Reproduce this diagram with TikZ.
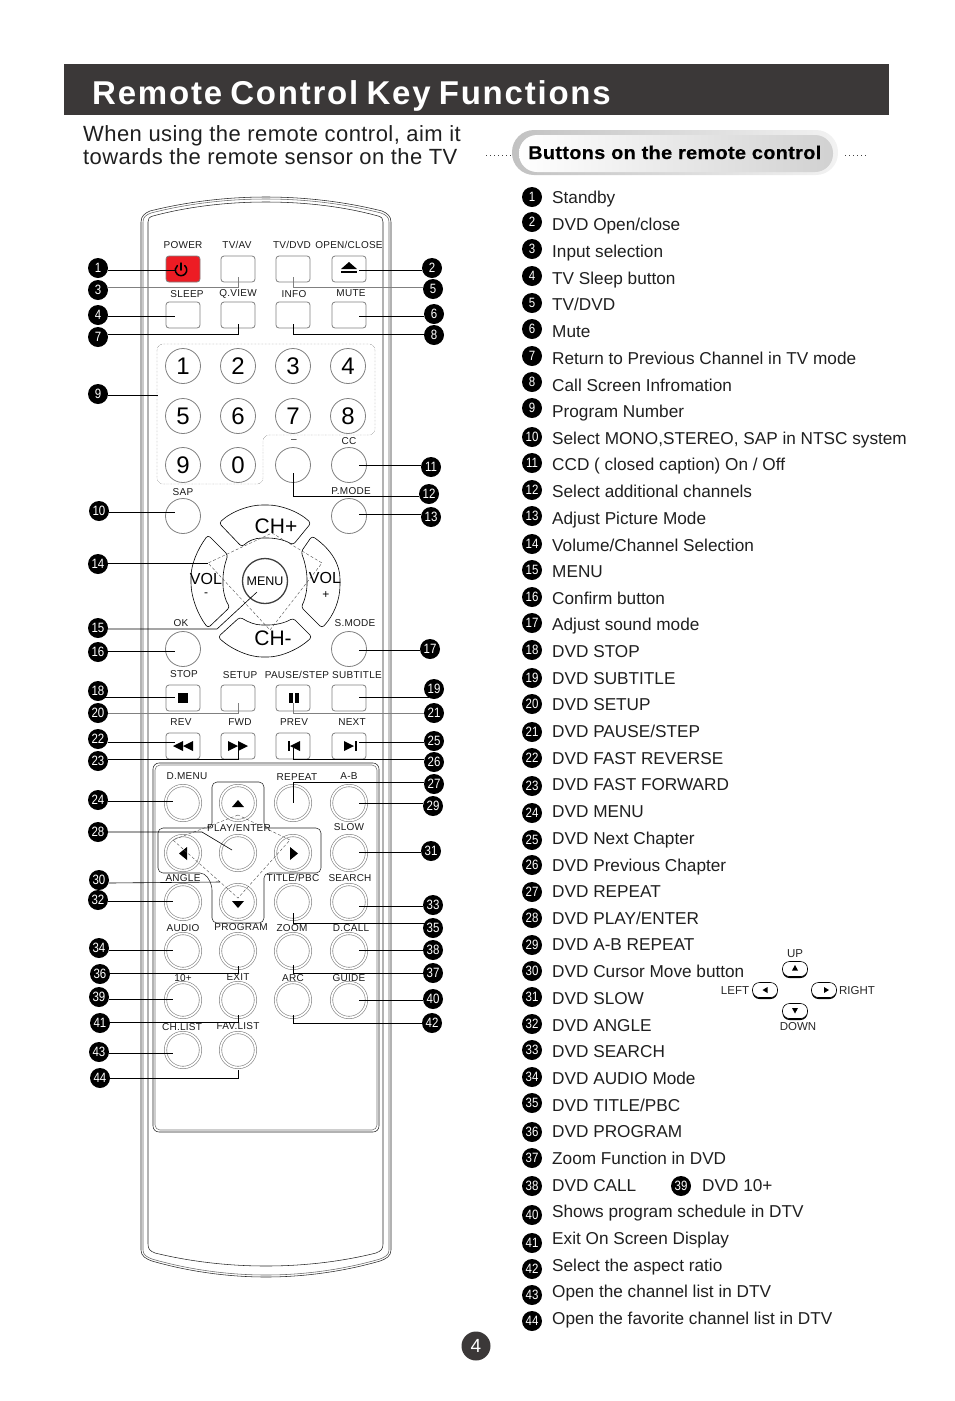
\documentclass[tikz,border=0pt]{standalone}
\usepackage{fontspec}
\setmainfont{Liberation Sans}
\newfontfamily\badgefont[FakeStretch=0.85]{Liberation Sans}
\newfontfamily\titlefont[LetterSpace=5.4,WordSpace=0.75]{Liberation Sans Bold}
\newfontfamily\subfont[LetterSpace=2]{Liberation Sans}
\newfontfamily\pillfont[FakeStretch=1.08,LetterSpace=1.5,FakeBold=0.4]{Liberation Sans Bold}
\newfontfamily\labelfont[LetterSpace=2.5]{Liberation Sans}
\definecolor{bardark}{HTML}{3B3838}
\definecolor{keygray}{HTML}{808080}
\definecolor{powerred}{HTML}{ED1C24}
\tikzset{
    shell/.style={line width=0.55pt,black!85},
    squarekey/.style={draw=keygray,line width=0.8pt,fill=white,rounded corners=3pt,minimum width=34pt,minimum height=26pt,inner sep=0pt},
    numkey/.style={circle,draw=keygray,line width=0.8pt,fill=white,minimum size=35pt,inner sep=0pt,font=\fontsize{24}{24}\selectfont},
    ringkey/.style={circle,draw=keygray,line width=0.6pt,double=white,double distance=1.8pt,minimum size=35pt,inner sep=0pt},
    padline/.style={line width=0.6pt,black,fill=white,rounded corners=3pt,line join=round},
    dashline/.style={line width=0.4pt,black!70,densely dashed},
    lbl/.style={inner sep=0pt,font=\labelfont\fontsize{10}{10}\selectfont,text=black!90},
    lead/.style={line width=0.6pt,black},
    faint/.style={line width=0.6pt,black!50},
    badge/.style={circle,fill=black,text=white,minimum size=20pt,inner sep=0pt,font=\badgefont\fontsize{13.5}{13.5}\selectfont},
    item/.style={anchor=base west,inner sep=0pt,font=\fontsize{17.2}{17.2}\selectfont,text=black!88},
    minikey/.style={draw=black,line width=0.6pt,fill=white,rounded corners=7pt,minimum width=25pt,minimum height=15pt,inner sep=0pt},
    minilbl/.style={inner sep=0pt,font=\fontsize{11.5}{11.5}\selectfont,text=black!85}
}
\begin{document}
\begin{tikzpicture}[x=1pt,y=-1pt]
    \useasboundingbox (0,0) rectangle (954,1401);

    \fill[bardark] (64,64) rectangle (889,115);
    \node[anchor=base west,inner sep=0pt,text=white,font=\titlefont\fontsize{33}{33}\selectfont] (title) at (92,104) {Remote Control Key Functions};
    \node[anchor=base west,inner sep=0pt,font=\subfont\fontsize{22}{22}\selectfont,text=black!88] (sub1) at (83,141) {When using the remote control, aim it};
    \node[anchor=base west,inner sep=0pt,font=\subfont\fontsize{22}{22}\selectfont,text=black!88] (sub2) at (83,164) {towards the remote sensor on the TV};

    \shade[left color=black!24,right color=black!5,rounded corners=22pt] (512,130) rectangle (838,175);
    \shade[left color=white,right color=black!18,rounded corners=18pt] (519,135) rectangle (833,172);
    \node[anchor=base west,inner sep=0pt,font=\pillfont\fontsize{18.5}{18.5}\selectfont] (pill) at (528,159) {Buttons on the remote control};
    \draw[line width=1pt,black!75,dash pattern=on 1pt off 3pt] (486,155) -- (511,155);
    \draw[line width=1pt,black!75,dash pattern=on 1pt off 3pt] (845,155) -- (869,155);

    \draw[shell] (141,1250) -- (141,222) .. controls (141,216) and (145,213) .. (150,211) .. controls (190,201) and (230,197) .. (266,197) .. controls (302,197) and (342,201) .. (382,211) .. controls (387,213) and (391,216) .. (391,222) -- (391,1250) .. controls (391,1256) and (386,1259) .. (380,1261) .. controls (342,1272) and (302,1277) .. (266,1277) .. controls (230,1277) and (190,1272) .. (152,1261) .. controls (146,1259) and (141,1256) .. (141,1250);
    \draw[shell,black!60] (143,1250) -- (143,222) .. controls (143,217) and (146,215) .. (151,213) .. controls (190,203) and (230,199) .. (266,199) .. controls (302,199) and (342,203) .. (381,213) .. controls (386,215) and (389,217) .. (389,222) -- (389,1250) .. controls (389,1255) and (385,1257) .. (380,1259) .. controls (342,1270) and (302,1275) .. (266,1275) .. controls (230,1275) and (190,1270) .. (152,1259) .. controls (147,1257) and (143,1255) .. (143,1250);
    \draw[shell] (148,1244) -- (148,222) .. controls (148,219) and (149,217) .. (153,216) .. controls (190,206) and (230,202) .. (266,202) .. controls (302,202) and (342,206) .. (378,216) .. controls (382,217) and (383,219) .. (383,222) -- (383,1244) .. controls (383,1249) and (381,1251) .. (376,1253) .. controls (340,1262) and (302,1266) .. (266,1266) .. controls (230,1266) and (192,1262) .. (155,1253) .. controls (150,1251) and (148,1249) .. (148,1244);
    \draw[shell,rounded corners=6pt] (153,763) rectangle (379,1132);
    \draw[shell,black!55,rounded corners=5pt] (155,765) rectangle (377,1130);

    \node[squarekey,fill=powerred] (power) at (183,269) {};
    \node[squarekey] (tvav) at (238,269) {};
    \node[squarekey] (tvdvd) at (293,269) {};
    \node[squarekey] (eject) at (349,269) {};
    \node[squarekey] (sleep) at (183,315) {};
    \node[squarekey] (qview) at (238,315) {};
    \node[squarekey] (info) at (293,315) {};
    \node[squarekey] (mute) at (349,315) {};
    \draw[line width=1.5pt,line cap=round] (184.7,265.6) arc[start angle=50,end angle=-230,radius=5.7pt];
    \draw[line width=1.5pt,line cap=round] (181,263) -- (181,270);
    \fill[black] (341,269) -- (349,262) -- (357,269) -- cycle;
    \fill[black] (341,271) rectangle (357,273);

    \draw[dashline,densely dotted,rounded corners=6pt] (157,344) -- (375,344) -- (375,435) -- (263,435) -- (263,484) -- (157,484) -- cycle;
    \node[numkey] (key1) at (183,366) {1};
    \node[numkey] (key2) at (238,366) {2};
    \node[numkey] (key3) at (293,366) {3};
    \node[numkey] (key4) at (348,366) {4};
    \node[numkey] (key5) at (183,416) {5};
    \node[numkey] (key6) at (238,416) {6};
    \node[numkey] (key7) at (293,416) {7};
    \node[numkey] (key8) at (348,416) {8};
    \node[numkey] (key9) at (183,465) {9};
    \node[numkey] (key0) at (238,465) {0};
    \node[numkey] (dash) at (293,465) {};
    \node[numkey] (cc) at (349,465) {};
    \node[numkey] (sap) at (183,516) {};
    \node[numkey] (pmode) at (349,516) {};
    \node[numkey] (ok) at (183,649) {};
    \node[numkey] (smode) at (349,649) {};
    \coordinate (kpedge) at (158,395);

    \draw[padline] (219,523) .. controls (232,511) and (250,505) .. (265,505) .. controls (280,505) and (298,511) .. (311,523) -- (293,545) .. controls (285,540) and (275,538) .. (265,538) .. controls (255,538) and (248,541) .. (242,547) -- cycle;
    \draw[padline] (218,637) .. controls (232,650) and (250,657) .. (265,657) .. controls (280,657) and (298,650) .. (312,637) -- (293,618) .. controls (285,623) and (275,625) .. (265,625) .. controls (255,625) and (248,622) .. (240,617) -- cycle;
    \draw[padline] (208,535) .. controls (197,550) and (191,565) .. (191,580) .. controls (191,597) and (198,615) .. (208,628) -- (230,607) .. controls (225,600) and (223,590) .. (223,582) .. controls (223,572) and (225,563) .. (228,555) -- cycle;
    \draw[padline] (312,536) .. controls (332,550) and (340,565) .. (340,582) .. controls (340,600) and (334,615) .. (322,628) -- (301,607) .. controls (305,600) and (307,590) .. (307,582) .. controls (307,572) and (305,562) .. (301,552) -- cycle;
    \draw[dashline] (272,533) -- (322,563) -- (270,630) -- (208,563) -- cycle;
    \node[circle,draw=black!75,line width=1.3pt,fill=white,minimum size=45pt,inner sep=0pt,font=\fontsize{12.5}{12.5}\selectfont] (menu) at (265,581) {MENU};
    \coordinate (padedge) at (208,563);
    \coordinate (menubend) at (217,629);
    \node[inner sep=0pt,font=\fontsize{21}{21}\selectfont] (chup) at (276,526) {CH+};
    \node[inner sep=0pt,font=\fontsize{21}{21}\selectfont] (chdown) at (273,638) {CH-};
    \node[inner sep=0pt,font=\fontsize{16}{16}\selectfont] (volminus) at (206,579) {VOL};
    \node[inner sep=0pt,font=\fontsize{12}{12}\selectfont] (minus) at (206,595) {-};
    \node[inner sep=0pt,font=\fontsize{16}{16}\selectfont] (volplus) at (325,578) {VOL};
    \node[inner sep=0pt,font=\fontsize{12}{12}\selectfont] (plus) at (326,595) {+};

    \node[squarekey] (stop) at (183,698) {};
    \node[squarekey] (setup) at (238,698) {};
    \node[squarekey] (pause) at (293,698) {};
    \node[squarekey] (subtitle) at (349,698) {};
    \node[squarekey] (rev) at (183,746) {};
    \node[squarekey] (fwd) at (238,746) {};
    \node[squarekey] (prev) at (293,746) {};
    \node[squarekey] (next) at (349,746) {};
    \fill[black] (178,693) rectangle (188,703);
    \fill[black] (289,693) rectangle (293,703);
    \fill[black] (294.5,693) rectangle (298.5,703);
    \fill[black] (183,741) -- (173,746) -- (183,751) -- cycle;
    \fill[black] (193,741) -- (183,746) -- (193,751) -- cycle;
    \fill[black] (228,741) -- (238,746) -- (228,751) -- cycle;
    \fill[black] (238,741) -- (248,746) -- (238,751) -- cycle;
    \fill[black] (288,741) rectangle (290,751);
    \fill[black] (300,741) -- (290,746) -- (300,751) -- cycle;
    \fill[black] (344,741) -- (354,746) -- (344,751) -- cycle;
    \fill[black] (354.5,741) rectangle (356.5,751);

    \draw[shell,rounded corners=5pt] (212,828) -- (212,782) -- (264,782) -- (264,828) -- (321,828) -- (321,873) -- (264,873) -- (264,923) -- (212,923) -- (212,885) -- (205,873) -- (158,873) -- (158,828) -- cycle;
    \node[ringkey] (dmenu) at (183,803) {};
    \node[ringkey] (up) at (238,803) {};
    \node[ringkey] (repeatkey) at (293,803) {};
    \node[ringkey] (ab) at (349,803) {};
    \node[ringkey] (left) at (183,853) {};
    \node[ringkey] (play) at (238,853) {};
    \node[ringkey] (right) at (293,853) {};
    \node[ringkey] (slow) at (349,853) {};
    \node[ringkey] (angle) at (183,902) {};
    \node[ringkey] (down) at (238,902) {};
    \node[ringkey] (titlepbc) at (293,902) {};
    \node[ringkey] (search) at (349,902) {};
    \node[ringkey] (audio) at (183,951) {};
    \node[ringkey] (program) at (238,951) {};
    \node[ringkey] (zoomkey) at (293,951) {};
    \node[ringkey] (dcall) at (349,951) {};
    \node[ringkey] (ten) at (183,1000) {};
    \node[ringkey] (exit) at (238,1000) {};
    \node[ringkey] (arc) at (293,1000) {};
    \node[ringkey] (guide) at (349,1000) {};
    \node[ringkey] (chlist) at (183,1050) {};
    \node[ringkey] (favlist) at (238,1050) {};
    \fill[black] (232,807) -- (238,800) -- (244,807) -- cycle;
    \fill[black] (187,847) -- (179,853.5) -- (187,860) -- cycle;
    \fill[black] (290,847) -- (298,853.5) -- (290,860) -- cycle;
    \fill[black] (232,901) -- (238,908) -- (244,901) -- cycle;
    \draw[dashline] (238,815) -- (173,840) -- (238,898) -- (290,840) -- cycle;
    \coordinate (playbend) at (202,832);
    \coordinate (padleft) at (220,882);

    \node[lbl] (lpower) at (183,245) {POWER};
    \node[lbl] (ltvav) at (237,245) {TV/AV};
    \node[lbl] (ltvdvd) at (292,245) {TV/DVD};
    \node[lbl] (leject) at (349,245) {OPEN/CLOSE};
    \node[lbl] (lsleep) at (187,294) {SLEEP};
    \node[lbl] (lqview) at (238,294) {Q.VIEW};
    \node[lbl] (linfo) at (294,294) {INFO};
    \node[lbl] (lmute) at (351,293) {MUTE};
    \node[lbl] (ldash) at (294,441) {\textendash};
    \node[lbl] (lcc) at (349,441) {CC};
    \node[lbl] (lsap) at (183,492) {SAP};
    \node[lbl] (lpmode) at (351,491) {P.MODE};
    \node[lbl] (lok) at (181,623) {OK};
    \node[lbl] (lsmode) at (355,623) {S.MODE};
    \node[lbl] (lstop) at (184,674) {STOP};
    \node[lbl] (lsetup) at (240,675) {SETUP};
    \node[lbl] (lpause) at (297,675) {PAUSE/STEP};
    \node[lbl] (lsubtitle) at (357,675) {SUBTITLE};
    \node[lbl] (lrev) at (181,722) {REV};
    \node[lbl] (lfwd) at (240,722) {FWD};
    \node[lbl] (lprev) at (294,722) {PREV};
    \node[lbl] (lnext) at (352,722) {NEXT};
    \node[lbl] (ldmenu) at (187,776) {D.MENU};
    \node[lbl] (lrepeat) at (297,777) {REPEAT};
    \node[lbl] (lab) at (349,776) {A-B};
    \node[lbl] (lplay) at (239,828) {PLAY/ENTER};
    \node[lbl] (lslow) at (349,827) {SLOW};
    \node[lbl] (langle) at (183,878) {ANGLE};
    \node[lbl] (ltitle) at (293,878) {TITLE/PBC};
    \node[lbl] (lsearch) at (350,878) {SEARCH};
    \node[lbl] (laudio) at (183,928) {AUDIO};
    \node[lbl] (lprogram) at (241,927) {PROGRAM};
    \node[lbl] (lzoom) at (292,928) {ZOOM};
    \node[lbl] (ldcall) at (351,928) {D.CALL};
    \node[lbl] (lten) at (183,978) {10+};
    \node[lbl] (lexit) at (238,977) {EXIT};
    \node[lbl] (larc) at (293,978) {ARC};
    \node[lbl] (lguide) at (349,978) {GUIDE};
    \node[lbl] (lchlist) at (182,1027) {CH.LIST};
    \node[lbl] (lfavlist) at (238,1026) {FAV.LIST};

    \node[badge] (n1) at (98,268) {1};
    \node[badge] (n2) at (432,268) {2};
    \node[badge] (n3) at (98,290) {3};
    \node[badge] (n4) at (98,315) {4};
    \node[badge] (n5) at (433,289) {5};
    \node[badge] (n6) at (434,314) {6};
    \node[badge] (n7) at (98,337) {7};
    \node[badge] (n8) at (434,335) {8};
    \node[badge] (n9) at (98,394) {9};
    \node[badge] (n10) at (99,511) {10};
    \node[badge] (n11) at (431,467) {11};
    \node[badge] (n12) at (429,494) {12};
    \node[badge] (n13) at (431,517) {13};
    \node[badge] (n14) at (98,564) {14};
    \node[badge] (n15) at (98,628) {15};
    \node[badge] (n16) at (98,652) {16};
    \node[badge] (n17) at (430,649) {17};
    \node[badge] (n18) at (98,691) {18};
    \node[badge] (n19) at (434,689) {19};
    \node[badge] (n20) at (98,713) {20};
    \node[badge] (n21) at (434,713) {21};
    \node[badge] (n22) at (98,739) {22};
    \node[badge] (n23) at (98,761) {23};
    \node[badge] (n24) at (98,800) {24};
    \node[badge] (n25) at (434,741) {25};
    \node[badge] (n26) at (434,762) {26};
    \node[badge] (n27) at (434,784) {27};
    \node[badge] (n28) at (98,832) {28};
    \node[badge] (n29) at (433,806) {29};
    \node[badge] (n30) at (99,880) {30};
    \node[badge] (n31) at (431,851) {31};
    \node[badge] (n32) at (98,900) {32};
    \node[badge] (n33) at (433,905) {33};
    \node[badge] (n34) at (99,948) {34};
    \node[badge] (n35) at (433,928) {35};
    \node[badge] (n36) at (100,974) {36};
    \node[badge] (n37) at (433,973) {37};
    \node[badge] (n38) at (433,950) {38};
    \node[badge] (n39) at (99,997) {39};
    \node[badge] (n40) at (433,999) {40};
    \node[badge] (n41) at (100,1023) {41};
    \node[badge] (n42) at (432,1023) {42};
    \node[badge] (n43) at (99,1052) {43};
    \node[badge] (n44) at (100,1078) {44};

    \draw[lead] ([yshift=-2pt]n1.east) -| ([xshift=-8pt,yshift=-1pt]power.center);
    \draw[lead] ([yshift=-2pt]n2.west) -| ([xshift=10pt,yshift=-1pt]eject.center);
    \draw[faint] ([yshift=3pt]n3.east) -| ([yshift=-8pt]tvav.center);
    \draw[lead] ([yshift=-1pt]n4.east) -| ([xshift=-8pt,yshift=-1pt]sleep.center);
    \draw[faint] ([yshift=2pt]n5.west) -| ([yshift=-8pt]tvdvd.center);
    \draw[lead] ([yshift=-2pt]n6.west) -| ([xshift=10pt,yshift=-1pt]mute.center);
    \draw[lead] ([yshift=3pt]n7.east) -| ([yshift=-9pt]qview.center);
    \draw[lead] ([yshift=1pt]n8.west) -| ([yshift=-9pt]info.center);
    \draw[lead] ([yshift=-1pt]n9.east) -- (kpedge);
    \draw[lead] ([yshift=-1pt]n10.east) -| ([xshift=-8pt,yshift=4pt]sap.center);
    \draw[lead] ([yshift=2pt]n11.west) -| ([xshift=10pt]cc.center);
    \draw[lead] ([yshift=-2pt]n12.west) -| ([yshift=-8pt]dash.center);
    \draw[lead] ([yshift=3pt]n13.west) -| ([xshift=10pt,yshift=2pt]pmode.center);
    \draw[lead] ([yshift=1pt]n14.east) -- (padedge);
    \draw[lead] ([yshift=-1pt]n15.east) -- (menubend) -- ([xshift=-8pt,yshift=-11pt]menu.center);
    \draw[lead] ([yshift=1pt]n16.east) -| ([xshift=-8pt,yshift=-2pt]ok.center);
    \draw[lead] ([yshift=-1pt]n17.west) -| ([xshift=10pt,yshift=-1pt]smode.center);
    \draw[lead] ([xshift=-3pt,yshift=-6pt]n18.east) -| ([xshift=-8pt,yshift=1pt]stop.center);
    \draw[lead] ([xshift=5pt,yshift=-8pt]n19.west) -| ([xshift=10pt,yshift=1pt]subtitle.center);
    \draw[faint] (n20.east) -| ([yshift=-5pt]setup.center);
    \draw[faint] (n21.west) -| ([yshift=-5pt]pause.center);
    \draw[lead] ([yshift=-3pt]n22.east) -| ([xshift=-8pt,yshift=4pt]rev.center);
    \draw[lead] ([yshift=2pt]n23.east) -| ([yshift=-2pt]fwd.center);
    \draw[lead] ([yshift=-1pt]n24.east) -| ([xshift=-10pt,yshift=2pt]dmenu.center);
    \draw[lead] ([yshift=-1pt]n25.west) -| ([xshift=10pt,yshift=4pt]next.center);
    \draw[lead] ([yshift=3pt]n26.west) -| ([yshift=-2pt]prev.center);
    \draw[lead] ([yshift=2pt]n27.west) -| (repeatkey.center);
    \draw[lead] (n28.east) -- (playbend) -- ([xshift=-6pt,yshift=3pt]play.center);
    \draw[lead] ([yshift=3pt]n29.west) -| ([xshift=10pt]ab.center);
    \draw[lead] ([yshift=-3pt]n30.east) -- (padleft);
    \draw[lead] ([yshift=-1pt]n31.west) -| ([xshift=10pt,yshift=1pt]slow.center);
    \draw[lead] ([yshift=-1pt]n32.east) -| ([xshift=-10pt,yshift=1pt]angle.center);
    \draw[lead] ([yshift=-1pt]n33.west) -| ([xshift=10pt,yshift=-4pt]search.center);
    \draw[lead] ([yshift=-2pt]n34.east) -| ([xshift=-10pt,yshift=1pt]audio.center);
    \draw[lead] ([xshift=2pt,yshift=5pt]n35.west) -| ([yshift=-11pt]titlepbc.center);
    \draw[lead] ([yshift=1pt]n36.east) -| ([yshift=-15pt]program.center);
    \draw[lead] (n37.west) -| ([yshift=-14pt]zoomkey.center);
    \draw[lead] (n38.west) -| ([xshift=10pt,yshift=1pt]dcall.center);
    \draw[lead] ([yshift=-2pt]n39.east) -| ([xshift=-10pt,yshift=1pt]ten.center);
    \draw[lead] ([yshift=-1pt]n40.west) -| ([xshift=10pt]guide.center);
    \draw[lead] ([yshift=1pt]n41.east) -| ([yshift=-15pt]exit.center);
    \draw[lead] (n42.west) -| ([yshift=-15pt]arc.center);
    \draw[lead] ([yshift=-1pt]n43.east) -| ([xshift=-10pt,yshift=-3pt]chlist.center);
    \draw[lead] (n44.east) -| ([yshift=-20pt]favlist.center);

    \node[badge] (k1) at (532,197) {1};
    \node[badge] (k2) at (532,222) {2};
    \node[badge] (k3) at (532,249) {3};
    \node[badge] (k4) at (532,276) {4};
    \node[badge] (k5) at (532,303) {5};
    \node[badge] (k6) at (532,329) {6};
    \node[badge] (k7) at (532,356) {7};
    \node[badge] (k8) at (532,382) {8};
    \node[badge] (k9) at (532,408) {9};
    \node[badge] (k10) at (532,437) {10};
    \node[badge] (k11) at (532,463) {11};
    \node[badge] (k12) at (532,490) {12};
    \node[badge] (k13) at (532,516) {13};
    \node[badge] (k14) at (532,544) {14};
    \node[badge] (k15) at (532,570) {15};
    \node[badge] (k16) at (532,597) {16};
    \node[badge] (k17) at (532,623) {17};
    \node[badge] (k18) at (532,650) {18};
    \node[badge] (k19) at (532,678) {19};
    \node[badge] (k20) at (532,704) {20};
    \node[badge] (k21) at (532,732) {21};
    \node[badge] (k22) at (532,758) {22};
    \node[badge] (k23) at (532,786) {23};
    \node[badge] (k24) at (532,813) {24};
    \node[badge] (k25) at (532,840) {25};
    \node[badge] (k26) at (532,865) {26};
    \node[badge] (k27) at (532,892) {27};
    \node[badge] (k28) at (532,918) {28};
    \node[badge] (k29) at (532,945) {29};
    \node[badge] (k30) at (532,971) {30};
    \node[badge] (k31) at (532,997) {31};
    \node[badge] (k32) at (532,1024) {32};
    \node[badge] (k33) at (532,1050) {33};
    \node[badge] (k34) at (532,1077) {34};
    \node[badge] (k35) at (532,1103) {35};
    \node[badge] (k36) at (532,1132) {36};
    \node[badge] (k37) at (532,1158) {37};
    \node[badge] (k38) at (532,1186) {38};
    \node[badge] (k39) at (681,1186) {39};
    \node[badge] (k40) at (532,1215) {40};
    \node[badge] (k41) at (532,1243) {41};
    \node[badge] (k42) at (532,1269) {42};
    \node[badge] (k43) at (532,1295) {43};
    \node[badge] (k44) at (532,1321) {44};

    \node[item] (t1) at (552,203) {Standby};
    \node[item] (t2) at (552,230) {DVD Open/close};
    \node[item] (t3) at (552,257) {Input selection};
    \node[item] (t4) at (552,284) {TV Sleep button};
    \node[item] (t5) at (552,310) {TV/DVD};
    \node[item] (t6) at (552,337) {Mute};
    \node[item] (t7) at (552,364) {Return to Previous Channel in TV mode};
    \node[item] (t8) at (552,391) {Call Screen Infromation};
    \node[item] (t9) at (552,417) {Program Number};
    \node[item] (t10) at (552,444) {Select MONO,STEREO, SAP in NTSC system};
    \node[item] (t11) at (552,470) {CCD ( closed caption) On / Off};
    \node[item] (t12) at (552,497) {Select additional channels};
    \node[item] (t13) at (552,524) {Adjust Picture Mode};
    \node[item] (t14) at (552,551) {Volume/Channel Selection};
    \node[item] (t15) at (552,577) {MENU};
    \node[item] (t16) at (552,604) {Confirm button};
    \node[item] (t17) at (552,630) {Adjust sound mode};
    \node[item] (t18) at (552,657) {DVD STOP};
    \node[item] (t19) at (552,684) {DVD SUBTITLE};
    \node[item] (t20) at (552,710) {DVD SETUP};
    \node[item] (t21) at (552,737) {DVD PAUSE/STEP};
    \node[item] (t22) at (552,764) {DVD FAST REVERSE};
    \node[item] (t23) at (552,790) {DVD FAST FORWARD};
    \node[item] (t24) at (552,817) {DVD MENU};
    \node[item] (t25) at (552,844) {DVD Next Chapter};
    \node[item] (t26) at (552,871) {DVD Previous Chapter};
    \node[item] (t27) at (552,897) {DVD REPEAT};
    \node[item] (t28) at (552,924) {DVD PLAY/ENTER};
    \node[item] (t29) at (552,950) {DVD A-B REPEAT};
    \node[item] (t30) at (552,977) {DVD Cursor Move button};
    \node[item] (t31) at (552,1004) {DVD SLOW};
    \node[item] (t32) at (552,1031) {DVD ANGLE};
    \node[item] (t33) at (552,1057) {DVD SEARCH};
    \node[item] (t34) at (552,1084) {DVD AUDIO Mode};
    \node[item] (t35) at (552,1111) {DVD TITLE/PBC};
    \node[item] (t36) at (552,1137) {DVD PROGRAM};
    \node[item] (t37) at (552,1164) {Zoom Function in DVD};
    \node[item] (t38) at (552,1191) {DVD CALL};
    \node[item] (t39) at (702,1191) {DVD 10+};
    \node[item] (t40) at (552,1217) {Shows program schedule in DTV};
    \node[item] (t41) at (552,1244) {Exit On Screen Display};
    \node[item] (t42) at (552,1271) {Select the aspect ratio};
    \node[item] (t43) at (552,1297) {Open the channel list in DTV};
    \node[item] (t44) at (552,1324) {Open the favorite channel list in DTV};

    \fill[black,rounded corners=7pt] (782.5,963) rectangle (807.5,978);
    \node[minikey] (mup) at (795,969) {};
    \fill[black,rounded corners=7pt] (752.5,984) rectangle (777.5,999);
    \node[minikey] (mleft) at (765,990) {};
    \fill[black,rounded corners=7pt] (811.5,984) rectangle (836.5,999);
    \node[minikey] (mright) at (824,990) {};
    \fill[black,rounded corners=7pt] (782.5,1005) rectangle (807.5,1020);
    \node[minikey] (mdown) at (795,1011) {};
    \fill[black] (792,970.5) -- (795,965) -- (798,970.5) -- cycle;
    \fill[black] (767.5,987) -- (762.5,990) -- (767.5,993) -- cycle;
    \fill[black] (824,987) -- (829,990) -- (824,993) -- cycle;
    \fill[black] (792,1008) -- (795,1013.5) -- (798,1008) -- cycle;
    \node[minilbl] (lup) at (795,954) {UP};
    \node[minilbl] (lleft) at (735,991) {LEFT};
    \node[minilbl] (lright) at (857,991) {RIGHT};
    \node[minilbl] (ldown) at (798,1027) {DOWN};

    \node[circle,fill=bardark,text=white,minimum size=29pt,inner sep=0pt,font=\fontsize{19}{19}\selectfont] (page) at (476,1346) {4};
\end{tikzpicture}
\end{document}
